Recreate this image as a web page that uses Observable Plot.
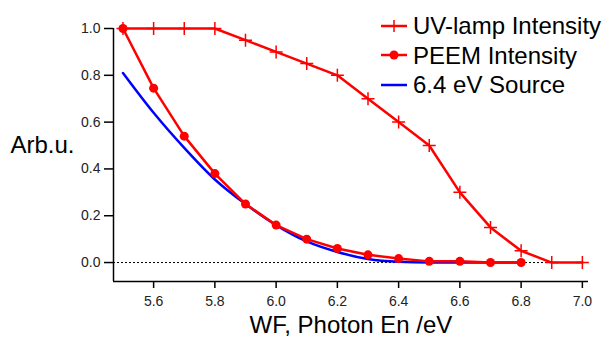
<!DOCTYPE html>
<html><head><meta charset="utf-8">
<script src="https://cdn.jsdelivr.net/npm/d3@7"></script>
<script src="https://cdn.jsdelivr.net/npm/@observablehq/plot@0.6"></script>
<style>
body{margin:0;background:#fff;font-family:"Liberation Sans",Arial,sans-serif}
#wrap{position:relative;width:616px;height:342px}
#legend{position:absolute;left:381px;top:11px;font-size:24px;line-height:29.5px;color:#000;white-space:nowrap}
#legend .row{display:flex;align-items:center;height:29.5px}
#legend svg{margin-right:6px}
</style>
</head><body>
<div id="wrap"><div id="legend"></div></div>
<script>
// Data
const uvX = [5.5,5.6,5.7,5.8,5.9,6.0,6.1,6.2,6.3,6.4,6.5,6.6,6.7,6.8,6.9,7.0];
const uvLamp = [1,1,1,1,0.95,0.9,0.85,0.8,0.7,0.6,0.5,0.3,0.15,0.05,0,0];
const peemX = [5.5,5.6,5.7,5.8,5.9,6.0,6.1,6.2,6.3,6.4,6.5,6.6,6.7,6.8];
const peem = [1,0.745,0.54,0.38,0.25,0.16,0.1,0.06,0.033,0.017,0.005,0.005,0,0];
const srcX = [5.5,5.6,5.7,5.8,5.9,6.0,6.1,6.2,6.3,6.4,6.5,6.6,6.7,6.8];
const source = [0.81,0.64,0.49,0.355,0.25,0.16,0.09,0.045,0.015,0.003,0,0,0,0];
const xTicks = [5.6,5.8,6.0,6.2,6.4,6.6,6.8,7.0];
const yTicks = [0,0.2,0.4,0.6,0.8,1.0];
const seriesNames = ["UV-lamp Intensity","PEEM Intensity","6.4 eV Source"];
const xLabel = "WF, Photon En /eV";
const yLabel = "Arb.u.";

const RED = "#ff0000", BLUE = "#0000ff";
const uvData = uvX.map((x,i)=>({x, y: uvLamp[i]}));
const peemData = peemX.map((x,i)=>({x, y: peem[i]}));
const srcData = srcX.map((x,i)=>({x, y: source[i]}));

const plusSymbol = {draw(ctx, size){ const r = Math.sqrt(size/Math.PI); ctx.moveTo(-r,0); ctx.lineTo(r,0); ctx.moveTo(0,-r); ctx.lineTo(0,r); }};

const xMin = 5.469, xMax = 7.02, yMin = -0.081, yMax = 1.0;

const chart = Plot.plot({
  width: 616, height: 342,
  marginLeft: 113, marginRight: 28, marginTop: 28, marginBottom: 61,
  style: {fontFamily: "'Liberation Sans', Arial, sans-serif", fontSize: "14px", color: "#000", background: "#fff", overflow: "visible"},
  x: {domain: [xMin, xMax]},
  y: {domain: [yMin, yMax]},
  marks: [
    Plot.ruleY([0], {stroke: "#000", strokeWidth: 1, strokeDasharray: "2,2"}),
    Plot.ruleX([xMin], {stroke: "#000", strokeWidth: 1.5}),
    Plot.ruleY([yMin], {stroke: "#000", strokeWidth: 1.5}),
    Plot.axisX(xTicks, {tickSize: 7, tickPadding: 8, tickFormat: ".1f", label: null, fontSize: 14, strokeWidth: 1.5, fill: "#222"}),
    Plot.axisY(yTicks, {tickSize: 9, tickPadding: 4, tickFormat: ".1f", label: null, fontSize: 14, strokeWidth: 1.5, fill: "#222"}),
    Plot.line(srcData, {x: "x", y: "y", stroke: BLUE, strokeWidth: 2.5, curve: "monotone-x"}),
    Plot.line(uvData, {x: "x", y: "y", stroke: RED, strokeWidth: 2.5}),
    Plot.dot(uvData, {x: "x", y: "y", symbol: plusSymbol, r: 6.5, stroke: RED, strokeWidth: 1.5, fill: "none"}),
    Plot.line(peemData, {x: "x", y: "y", stroke: RED, strokeWidth: 2.5}),
    Plot.dot(peemData, {x: "x", y: "y", r: 4.5, fill: RED, stroke: "none"}),
    Plot.text([yLabel], {frameAnchor: "left", dx: -103, dy: -10, textAnchor: "start", fontSize: 24, fill: "#000"}),
    Plot.text([xLabel], {frameAnchor: "bottom", dy: 51, fontSize: 24, fill: "#000"})
  ]
});
document.getElementById("wrap").prepend(chart);

// Legend
const legend = document.getElementById("legend");
const swatches = [
  `<line x1="0" y1="13" x2="26" y2="13" stroke="${RED}" stroke-width="2.5"/><line x1="13" y1="7" x2="13" y2="19" stroke="${RED}" stroke-width="1.5"/>`,
  `<line x1="0" y1="13" x2="26" y2="13" stroke="${RED}" stroke-width="2.5"/><circle cx="13" cy="13" r="4.5" fill="${RED}"/>`,
  `<line x1="0" y1="13" x2="26" y2="13" stroke="${BLUE}" stroke-width="2.5"/>`
];
seriesNames.forEach((name,i)=>{
  const row = document.createElement("div");
  row.className = "row";
  row.innerHTML = `<svg width="26" height="26">${swatches[i]}</svg><span>${name}</span>`;
  legend.appendChild(row);
});
</script>
</body></html>
